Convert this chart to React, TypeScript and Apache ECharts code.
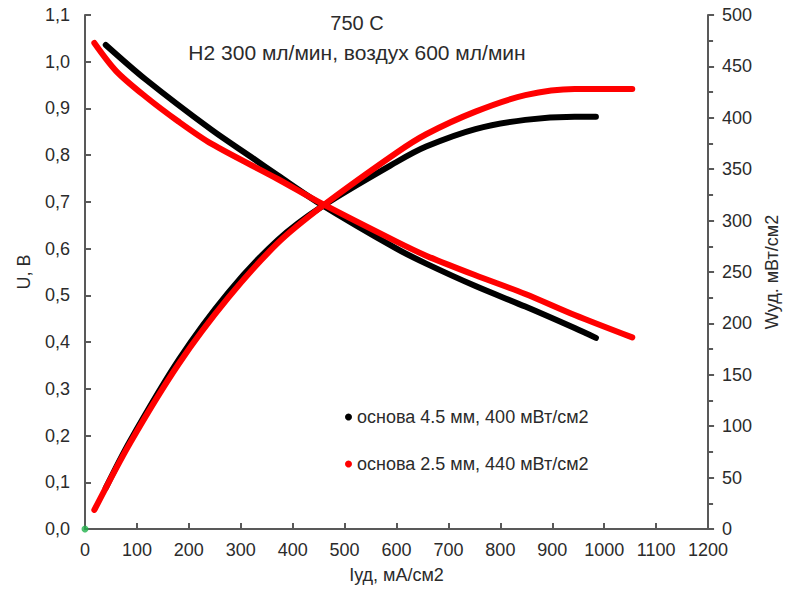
import React, { useEffect, useRef } from "react";
import * as echarts from "echarts";

// Current density, mA/cm2 and voltage, V — base 4.5 mm (black)
const blackUI = [40, 117, 244, 320, 371, 450, 600, 657, 752, 848, 943, 984];
const blackU = [1.036, 0.962, 0.854, 0.796, 0.757, 0.698, 0.6, 0.568, 0.52, 0.476, 0.43, 0.409];
// base 2.5 mm (red)
const redUI = [18, 60, 117, 180, 244, 371, 450, 600, 657, 752, 848, 943, 1054];
const redU = [1.04, 0.98, 0.925, 0.872, 0.824, 0.749, 0.7, 0.615, 0.585, 0.543, 0.503, 0.458, 0.41];

// Power density, mW/cm2
const blackWI = [40, 86, 181, 276, 371, 457, 600, 657, 752, 848, 943, 984];
const blackW = [40, 85, 165, 230, 281, 314, 357, 372, 389, 398, 401, 401];
const redWI = [18, 86, 181, 276, 371, 457, 600, 657, 752, 848, 943, 1054];
const redW = [18.5, 83, 161, 225, 278, 314, 366, 384, 406, 422, 428, 428];

const seriesNames = ["основа 4.5 мм, 400 мВт/см2", "основа 2.5 мм, 440 мВт/см2"];
const titleLines = ["750 C", "H2 300 мл/мин, воздух 600 мл/мин"];
const xName = "Iуд, мА/см2";
const yLeftName = "U, B";
const yRightName = "Wуд. мВт/см2";

const zip = (xs: number[], ys: number[]) => xs.map((x, i) => [x, ys[i]]);

const FONT = "Liberation Sans, Arial, sans-serif";
const TXT = "#2b2b2b";
const AXIS = "#595959";

export default function App() {
  const ref = useRef<HTMLDivElement>(null);
  useEffect(() => {
    if (!ref.current) return;
    const chart = echarts.init(ref.current, null, { renderer: "svg" });
    const lineCommon = {
      type: "line" as const,
      showSymbol: false,
      symbol: "none",
      smooth: 0.3,
      lineStyle: { width: 6, cap: "round" as const, join: "round" as const },
    };
    chart.setOption({
      animation: false,
      backgroundColor: "#fff",
      textStyle: { fontFamily: FONT },
      grid: { left: 85, right: 73, top: 15, bottom: 62, containLabel: false },
      title: [
        {
          text: titleLines[0],
          left: 352,
          top: 8,
          textAlign: "center",
          textStyle: { fontSize: 20, fontWeight: "normal", color: TXT, fontFamily: FONT },
        },
        {
          text: titleLines[1],
          left: 352,
          top: 37,
          textAlign: "center",
          textStyle: { fontSize: 21, fontWeight: "normal", color: TXT, fontFamily: FONT },
        },
      ],
      legend: {
        data: seriesNames.map((n, i) => ({
          name: n,
          itemStyle: { color: i === 0 ? "#000" : "#ff0000" },
        })),
        orient: "vertical",
        left: 340,
        top: 403,
        icon: "circle",
        itemWidth: 7,
        itemHeight: 7,
        itemGap: 29,
        textStyle: { fontSize: 18, color: TXT, fontFamily: FONT },
      },
      xAxis: {
        type: "value",
        min: 0,
        max: 1200,
        interval: 100,
        name: xName,
        nameLocation: "middle",
        nameGap: 37,
        nameTextStyle: { fontSize: 18, color: TXT, fontFamily: FONT },
        axisLine: { show: true, onZero: false, lineStyle: { color: AXIS, width: 2 } },
        axisTick: { show: true, inside: true, length: 6, lineStyle: { color: AXIS, width: 2 } },
        axisLabel: {
          fontSize: 18,
          color: TXT,
          margin: 12,
          fontFamily: FONT,
          formatter: (v: number) => String(v),
        },
        splitLine: { show: false },
      },
      yAxis: [
        {
          type: "value",
          min: 0,
          max: 1.1,
          interval: 0.1,
          position: "left",
          name: yLeftName,
          nameLocation: "middle",
          nameRotate: 90,
          nameGap: 52,
          nameTextStyle: { fontSize: 18, color: TXT, fontFamily: FONT },
          axisLine: { show: true, onZero: false, lineStyle: { color: AXIS, width: 2 } },
          axisTick: { show: true, inside: true, length: 6, lineStyle: { color: AXIS, width: 2 } },
          axisLabel: {
            fontSize: 18,
            color: TXT,
            margin: 15,
            fontFamily: FONT,
            formatter: (v: number) => v.toFixed(1).replace(".", ","),
          },
          splitLine: { show: false },
        },
        {
          type: "value",
          min: 0,
          max: 500,
          interval: 50,
          position: "right",
          name: yRightName,
          nameLocation: "middle",
          nameRotate: 90,
          nameGap: 52,
          nameTextStyle: { fontSize: 18, color: TXT, fontFamily: FONT },
          axisLine: { show: true, onZero: false, lineStyle: { color: AXIS, width: 2 } },
          axisTick: { show: true, inside: false, length: 6, lineStyle: { color: AXIS, width: 2 } },
          minorTick: { show: true, splitNumber: 2, length: 5, lineStyle: { color: AXIS, width: 2 } },
          axisLabel: { fontSize: 18, color: TXT, margin: 14, fontFamily: FONT },
          splitLine: { show: false },
        },
      ],
      series: [
        {
          ...lineCommon,
          name: seriesNames[0],
          yAxisIndex: 0,
          data: zip(blackUI, blackU),
          itemStyle: { color: "#000" },
          lineStyle: { ...lineCommon.lineStyle, color: "#000" },
        },
        {
          ...lineCommon,
          name: seriesNames[0],
          yAxisIndex: 1,
          data: zip(blackWI, blackW),
          itemStyle: { color: "#000" },
          lineStyle: { ...lineCommon.lineStyle, color: "#000" },
        },
        {
          ...lineCommon,
          name: seriesNames[1],
          yAxisIndex: 0,
          data: zip(redUI, redU),
          itemStyle: { color: "#ff0000" },
          lineStyle: { ...lineCommon.lineStyle, color: "#ff0000" },
        },
        {
          ...lineCommon,
          name: seriesNames[1],
          yAxisIndex: 1,
          data: zip(redWI, redW),
          itemStyle: { color: "#ff0000" },
          lineStyle: { ...lineCommon.lineStyle, color: "#ff0000" },
        },
        {
          type: "scatter",
          name: "origin",
          yAxisIndex: 0,
          data: [[0, 0]],
          symbolSize: 7,
          itemStyle: { color: "#22b14c" },
          z: 5,
        },
      ],
    });
    return () => chart.dispose();
  }, []);
  return (
    <div
      ref={ref}
      style={{ position: "fixed", left: 0, top: 0, width: 789, height: 591, background: "#fff" }}
    />
  );
}
